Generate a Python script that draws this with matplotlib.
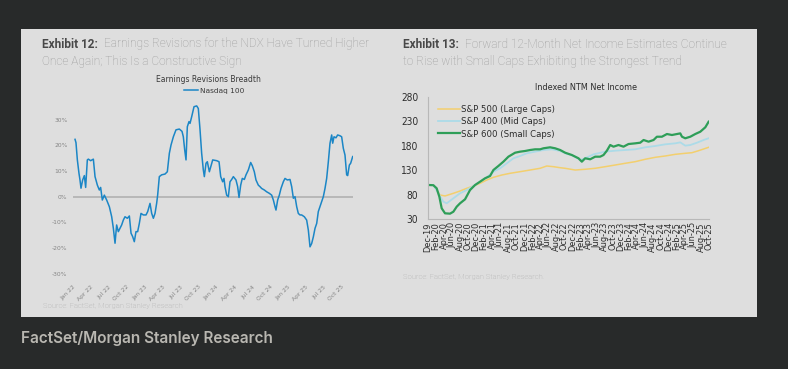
import numpy as np
import pandas as pd
import matplotlib
matplotlib.use('Agg')
import matplotlib.pyplot as plt
from matplotlib.patches import Rectangle
from matplotlib import font_manager

# Exhibit 12 - Nasdaq 100 earnings revisions breadth (%), x = months since Jan 2022
ndx_month = [0.34, 0.50, 0.73, 1.00, 1.17, 1.34, 1.62, 1.90, 2.12, 2.40, 2.57, 2.96, 3.41, 3.69,
             4.08, 4.41, 4.63, 4.91, 5.25, 5.64, 6.09, 6.48, 6.76, 7.04, 7.31, 7.59, 7.87, 8.15,
             8.43, 8.71, 9.10, 9.44, 9.72, 9.99, 10.27, 10.55, 10.83, 11.11, 11.39, 11.78, 12.23,
             12.51, 12.90, 13.18, 13.46, 13.74, 14.01, 14.18, 14.46, 14.85, 15.41, 15.80, 16.14,
             16.42, 16.81, 17.25, 17.81, 18.26, 18.48, 18.71, 18.93, 19.15, 19.43, 19.60, 19.88,
             20.27, 20.72, 20.99, 21.27, 21.55, 21.83, 22.00, 22.28, 22.50, 22.84, 23.40, 24.07,
             24.46, 24.74, 25.07, 25.29, 25.46, 25.74, 26.02, 26.30, 26.58, 26.86, 27.30, 27.58,
             27.81, 28.09, 28.36, 28.70, 28.98, 29.37, 29.76, 30.04, 30.37, 30.65, 31.04, 31.32,
             31.60, 32.05, 32.44, 32.89, 33.28, 33.56, 33.84, 34.00, 34.28, 34.56, 34.84, 35.23,
             35.51, 35.90, 36.35, 36.63, 36.91, 37.19, 37.47, 37.74, 38.02, 38.30, 38.75, 39.14,
             39.42, 39.70, 39.98, 40.26, 40.54, 40.82, 41.09, 41.37, 41.65, 41.93, 42.21, 42.49,
             42.77, 43.05, 43.33, 43.50, 43.72, 44.05, 44.33, 44.72, 45.00, 45.28, 45.56, 45.84,
             46.01, 46.29, 46.51, 46.68, 46.85]
ndx_breadth = [22.3, 21.0, 14.3, 9.1, 6.5, 3.3, 6.5, 8.2, 3.6, 14.3, 14.6, 14.0, 14.6, 7.8,
               4.5, 2.6, 3.6, -1.3, 0.6, -1.3, -3.9, -7.8, -12.3, -18.1, -11.0, -13.6, -12.3, -11.0,
               -9.1, -7.8, -8.4, -7.5, -14.2, -15.5, -17.5, -13.6, -13.6, -10.4, -6.5, -7.1, -7.1,
               -5.8, -2.6, -6.5, -8.4, -6.5, -2.6, 0.6, 7.8, 8.5, 8.8, 9.7, 16.9,
               20.1, 23.3, 26.0, 26.3, 25.4, 23.3, 18.2, 14.3, 27.2, 29.2, 28.5, 31.1,
               35.0, 35.3, 34.3, 26.3, 16.9, 10.4, 7.8, 13.0, 13.6, 9.7, 14.3, 14.0,
               13.6, 7.8, 5.8, 7.1, 3.9, 0.6, 0.0, 5.8, 6.7, 7.8, 6.5, 3.9,
               -0.3, 4.5, 7.1, 6.7, 8.5, 10.4, 13.3, 12.0, 9.7, 6.5, 4.5, 3.9,
               3.2, 2.6, 1.9, 1.3, 0.6, -1.3, -3.9, -5.2, -1.3, 0.6, 3.2, 5.8,
               7.1, 6.5, 6.7, 3.9, -0.6, 0.0, -3.9, -6.5, -7.1, -7.1, -7.8, -9.1,
               -13.0, -19.5, -18.2, -15.6, -12.3, -10.4, -5.8, -3.9, -1.9, 0.0, 3.2, 7.1,
               13.6, 20.8, 24.0, 20.8, 23.3, 22.9, 24.0, 23.7, 23.3, 18.8, 16.2, 8.5,
               8.2, 12.3, 13.0, 14.3, 15.6]
ndx_tick_labels = ['Jan 22', 'Apr 22', 'Jul 22', 'Oct 22', 'Jan 23', 'Apr 23', 'Jul 23', 'Oct 23',
                   'Jan 24', 'Apr 24', 'Jul 24', 'Oct 24', 'Jan 25', 'Apr 25', 'Jul 25', 'Oct 25']
ndx_yticks = [-30, -20, -10, 0, 10, 20, 30]

# Exhibit 13 - indexed NTM net income, x = months since Dec 2019
large_month = [0, 1.33, 2.16, 2.99, 4.24, 6.32, 7.98, 9.65, 11.30, 12.97, 14.64, 16.29, 18.38,
               20.45, 22.94, 25.44, 27.93, 29.59, 31.26, 32.92, 34.16, 36.66, 39.15, 41.65,
               44.14, 46.63, 49.13, 51.62, 54.11, 56.61, 59.10, 61.60, 64.09, 65.75, 67.41, 69.91]
large_val = [100, 100, 89.7, 79.6, 77.6, 83.0, 87.7, 93.2, 97.9, 103.4, 110.1, 115.6, 120.3,
             123.8, 127.1, 130.5, 134.0, 138.7, 137.3, 135.2, 134.0, 130.5, 132.0, 134.0,
             137.3, 140.7, 144.2, 147.5, 152.4, 156.4, 159.1, 162.5, 164.6, 165.8, 169.9, 176.8]
mid_month = [0, 1.33, 2.58, 3.82, 4.66, 6.32, 7.98, 9.65, 11.30, 12.97, 14.64, 16.29, 17.96,
             19.63, 21.27, 22.94, 24.61, 26.68, 28.76, 30.85, 32.92, 34.59, 35.83, 37.91,
             39.15, 41.23, 44.14, 46.63, 49.13, 51.62, 54.11, 56.61, 59.10, 61.60, 62.84,
             64.09, 65.34, 67.00, 68.66, 69.91]
mid_val = [100, 100, 83.0, 65.9, 62.6, 72.8, 83.0, 89.7, 97.9, 106.7, 115.6, 127.1, 134.0,
           144.2, 154.4, 159.1, 164.6, 167.9, 171.3, 172.7, 169.3, 163.2, 161.1, 150.9,
           154.4, 162.5, 167.9, 169.9, 171.3, 172.7, 176.8, 179.5, 182.9, 184.9, 186.9,
           180.2, 181.5, 186.2, 191.7, 195.2]
small_month = [0, 1.33, 2.16, 2.83, 3.41, 4.24, 5.49, 6.32, 7.15, 7.98, 9.23, 10.47, 11.72,
               12.97, 14.21, 15.46, 16.29, 17.53, 18.78, 20.03, 21.70, 22.94, 24.19, 25.44,
               26.68, 27.93, 28.76, 30.42, 31.67, 32.92, 34.16, 35.83, 37.49, 38.32, 39.15,
               40.40, 41.65, 42.89, 43.72, 44.56, 45.39, 46.21, 47.46, 48.70, 49.95, 51.62,
               52.87, 53.70, 54.94, 56.19, 57.02, 58.27, 59.52, 60.77, 62.02, 62.84, 63.27,
               64.09, 65.34, 66.58, 67.83, 69.08, 69.91]
small_val = [100, 99.5, 93.2, 76.0, 52.4, 42.2, 41.5, 45.5, 55.7, 62.6, 70.8, 89.7, 99.9,
             106.7, 113.6, 118.3, 130.5, 138.7, 147.5, 157.7, 165.8, 167.9, 169.3, 171.3,
             172.7, 172.7, 174.8, 176.8, 174.8, 171.3, 165.8, 161.1, 154.4, 147.5, 154.4,
             152.4, 157.7, 157.7, 161.1, 169.9, 181.5, 178.1, 181.5, 178.1, 183.5, 184.9,
             186.2, 191.7, 188.3, 191.7, 198.4, 198.4, 203.9, 201.9, 203.9, 205.2, 198.4,
             195.2, 198.4, 203.9, 208.6, 217.6, 229.0]
ntm_tick_labels = list(pd.date_range('2019-12-01', '2025-10-01', freq='2MS').strftime('%b-%y'))
ntm_yticks = [30, 80, 130, 180, 230, 280]

W, H = 788, 369
fig = plt.figure(figsize=(W / 100, H / 100), dpi=100, facecolor='#282a2a')


def px_rect(x0, y0, x1, y1):
    return [x0 / W, 1 - y1 / H, (x1 - x0) / W, (y1 - y0) / H]


def ftxt(x, y, s, **kw):
    return fig.text(x / W, 1 - y / H, s, **kw)


panel = Rectangle((21 / W, 1 - 317 / H), 736 / W, 288 / H, transform=fig.transFigure,
                  facecolor='#dedede', edgecolor='none', zorder=-10)
fig.patches.append(panel)

# condensed face for the right-hand chart
narrow = font_manager.FontProperties(family='DejaVu Sans', stretch='condensed')

# headings: bold dark "Exhibit N:" then light grey text
renderer = fig.canvas.get_renderer()
for x0, num, line1, line2 in [
        (42, '12', 'Earnings Revisions for the NDX Have Turned Higher',
         'Once Again; This Is a Constructive Sign'),
        (403, '13', 'Forward 12-Month Net Income Estimates Continue',
         'to Rise with Small Caps Exhibiting the Strongest Trend')]:
    t = ftxt(x0, 44, f'Exhibit {num}:', fontsize=8.5, family='Roboto', weight='bold',
             color='#484848', va='center')
    bb = t.get_window_extent(renderer)
    ftxt(bb.x1 + 6, 44, line1, fontsize=8.6, family='Roboto', weight='light',
         color='#9a9a9a', va='center')
    ftxt(x0, 62, line2, fontsize=8.6, family='Roboto', weight='light',
         color='#9a9a9a', va='center')

# ---- left chart
ax1 = fig.add_axes(px_rect(73, 100, 353, 280))
ax1.set_facecolor('none')
ax1.axhline(0, color='#b4b4b4', lw=1.3, zorder=1)
ndx_line, = ax1.plot(ndx_month, ndx_breadth, color='#1b86c6', lw=1.1, label='Nasdaq 100', zorder=2)
ax1.set_xlim(0, 280 / 5.97)
ax1.set_ylim(-32.4, 37.6)
ax1.set_xticks(np.arange(len(ndx_tick_labels)) * 3)
ax1.set_xticklabels(ndx_tick_labels, rotation=45, ha='right', rotation_mode='anchor')
ax1.set_yticks(ndx_yticks)
ax1.set_yticklabels([f'{v}%' for v in ndx_yticks])
ax1.tick_params(length=0, labelsize=4.3, labelcolor='#858585', pad=4)
ax1.tick_params(axis='x', pad=3)
for s in ax1.spines.values():
    s.set_visible(False)
ftxt(208, 80, 'Earnings Revisions Breadth', fontsize=5.5, color='#3a3a3a', ha='center', va='center')
fig.legend(handles=[ndx_line], loc='center', bbox_to_anchor=(214 / W, 1 - 91 / H), frameon=False,
           fontsize=5.3, handlelength=2.0, handletextpad=0.2, labelcolor='#3a3a3a')
ftxt(43, 306, 'Source: FactSet, Morgan Stanley Research', fontsize=5.5, color='#a8a8a8',
     va='center', family='Roboto', weight='light')

# ---- right chart
ax2 = fig.add_axes(px_rect(428, 96.7, 709, 219.3))
ax2.set_facecolor('none')
l1, = ax2.plot(large_month, large_val, color='#f3cf6e', lw=1.1, label='S&P 500 (Large Caps)')
l2, = ax2.plot(mid_month, mid_val, color='#acdbe8', lw=1.3, label='S&P 400 (Mid Caps)')
l3, = ax2.plot(small_month, small_val, color='#2e9e58', lw=1.6, label='S&P 600 (Small Caps)')
ax2.set_xlim(0, 70)
ax2.set_ylim(30, 280)
ax2.set_xticks(np.arange(len(ntm_tick_labels)) * 2)
ax2.set_xticklabels(ntm_tick_labels, rotation=90, fontproperties=narrow, fontsize=6.6)
ax2.set_yticks(ntm_yticks)
ax2.set_yticklabels([str(v) for v in ntm_yticks], fontproperties=narrow, fontsize=7.3)
ax2.tick_params(length=0, labelcolor='#2c2c2c')
ax2.tick_params(axis='y', pad=7)
ax2.tick_params(axis='x', pad=2)
for k in ['top', 'right']:
    ax2.spines[k].set_visible(False)
for k in ['left', 'bottom']:
    ax2.spines[k].set_color('#b8b8b8')
    ax2.spines[k].set_linewidth(0.8)
ftxt(586, 87, 'Indexed NTM Net Income', fontproperties=narrow, fontsize=6.5, color='#2c2c2c',
     ha='center', va='center')
leg_font = font_manager.FontProperties(family='DejaVu Sans', stretch='condensed', size=6.8)
fig.legend(handles=[l1, l2, l3], loc='upper left', bbox_to_anchor=(429 / W, 1 - 96.5 / H),
           frameon=False, prop=leg_font, handlelength=2.4,
           handletextpad=0.1, labelspacing=0.35, labelcolor='#2c2c2c')
ftxt(403, 277, 'Source: FactSet, Morgan Stanley Research.', fontsize=5.5, color='#a8a8a8',
     va='center', family='Roboto', weight='light')

ftxt(21, 338, 'FactSet/Morgan Stanley Research', fontsize=11, family='Inter', weight='semibold',
     color='#b9b7b1', va='center')

fig.savefig('out.png', dpi=100, facecolor=fig.get_facecolor())
